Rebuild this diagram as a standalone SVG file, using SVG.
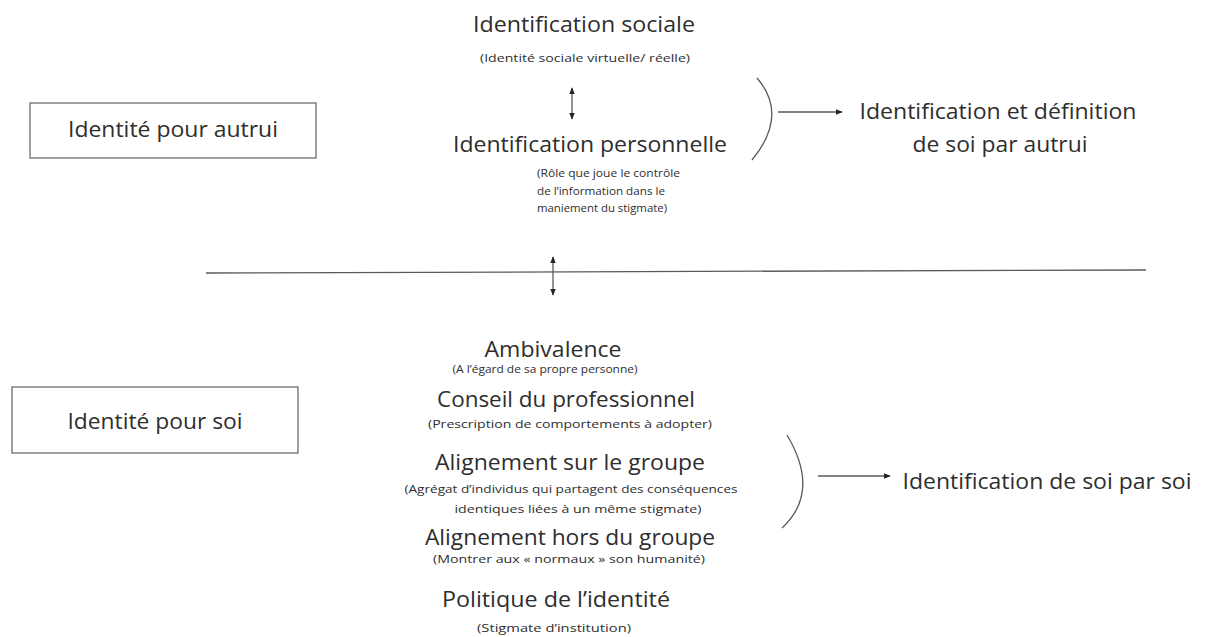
<svg xmlns="http://www.w3.org/2000/svg" width="1208" height="637" viewBox="0 0 1208 637">
<style>
text{font-family:"Open Sans","Noto Sans","Liberation Sans",sans-serif;fill:#2e2e2e}
.h{font-size:21.5px}
.s{font-size:10.5px}
.box{fill:#fff;stroke:#6e6e6e;stroke-width:1.3}
.ln{fill:none;stroke:#5a5a5a;stroke-width:1.3}
</style>
<defs>
<marker id="ah" viewBox="0 0 10 10" refX="9" refY="5" markerWidth="7" markerHeight="7" orient="auto-start-reverse" markerUnits="userSpaceOnUse">
<path d="M0,1 L10,5 L0,9 Z" fill="#222"/>
</marker>
</defs>
<rect width="1208" height="637" fill="#fff"/>
<g id="box-autrui">
<rect class="box" x="30" y="103" width="286" height="55"/>
<text class="h" x="173" y="137" text-anchor="middle" textLength="210" lengthAdjust="spacingAndGlyphs">Identité pour autrui</text>
</g>
<g id="box-soi">
<rect class="box" x="12" y="387" width="286" height="66"/>
<text class="h" x="155" y="429" text-anchor="middle" textLength="175" lengthAdjust="spacingAndGlyphs">Identité pour soi</text>
</g>
<g id="id-sociale">
<text class="h" x="584" y="32" text-anchor="middle" textLength="222" lengthAdjust="spacingAndGlyphs">Identification sociale</text>
<text class="s" x="585" y="62" text-anchor="middle" textLength="210" lengthAdjust="spacingAndGlyphs">(Identité sociale virtuelle/ réelle)</text>
</g>
<g id="id-personnelle">
<text class="h" x="590" y="152" text-anchor="middle" textLength="274" lengthAdjust="spacingAndGlyphs">Identification personnelle</text>
<text class="s" x="537" y="177" textLength="143" lengthAdjust="spacingAndGlyphs">(Rôle que joue le contrôle</text>
<text class="s" x="537" y="195" textLength="128" lengthAdjust="spacingAndGlyphs">de l’information dans le</text>
<text class="s" x="537" y="212" textLength="130" lengthAdjust="spacingAndGlyphs">maniement du stigmate)</text>
</g>
<g id="def-autrui">
<text class="h" x="998" y="119" text-anchor="middle" textLength="277" lengthAdjust="spacingAndGlyphs">Identification et définition</text>
<text class="h" x="1000" y="152" text-anchor="middle" textLength="175" lengthAdjust="spacingAndGlyphs">de soi par autrui</text>
</g>
<g id="ambivalence">
<text class="h" x="553" y="357" text-anchor="middle" textLength="137" lengthAdjust="spacingAndGlyphs">Ambivalence</text>
<text class="s" x="545" y="373" text-anchor="middle" textLength="185" lengthAdjust="spacingAndGlyphs">(A l’égard de sa propre personne)</text>
</g>
<g id="conseil">
<text class="h" x="566" y="407" text-anchor="middle" textLength="258" lengthAdjust="spacingAndGlyphs">Conseil du professionnel</text>
<text class="s" x="570" y="428" text-anchor="middle" textLength="284" lengthAdjust="spacingAndGlyphs">(Prescription de comportements à adopter)</text>
</g>
<g id="align-sur">
<text class="h" x="570" y="470" text-anchor="middle" textLength="270" lengthAdjust="spacingAndGlyphs">Alignement sur le groupe</text>
<text class="s" x="571" y="493" text-anchor="middle" textLength="333" lengthAdjust="spacingAndGlyphs">(Agrégat d’individus qui partagent des conséquences</text>
<text class="s" x="578" y="513" text-anchor="middle" textLength="247" lengthAdjust="spacingAndGlyphs">identiques liées à un même stigmate)</text>
</g>
<g id="align-hors">
<text class="h" x="570" y="545" text-anchor="middle" textLength="290" lengthAdjust="spacingAndGlyphs">Alignement hors du groupe</text>
<text class="s" x="569" y="563" text-anchor="middle" textLength="272" lengthAdjust="spacingAndGlyphs">(Montrer aux « normaux » son humanité)</text>
</g>
<g id="politique">
<text class="h" x="556" y="607" text-anchor="middle" textLength="228" lengthAdjust="spacingAndGlyphs">Politique de l’identité</text>
<text class="s" x="554" y="632" text-anchor="middle" textLength="154" lengthAdjust="spacingAndGlyphs">(Stigmate d’institution)</text>
</g>
<g id="def-soi">
<text class="h" x="1047" y="489" text-anchor="middle" textLength="289" lengthAdjust="spacingAndGlyphs">Identification de soi par soi</text>
</g>
<g id="connectors">
<line class="ln" x1="206" y1="273" x2="1146" y2="270"/>
<line class="ln" x1="572" y1="88" x2="572" y2="119" stroke="#222" marker-start="url(#ah)" marker-end="url(#ah)"/>
<line class="ln" x1="553" y1="257" x2="553" y2="295" stroke="#222" marker-start="url(#ah)" marker-end="url(#ah)"/>
<path class="ln" d="M757,78 Q789,115 752,160"/>
<line class="ln" x1="778" y1="112" x2="842" y2="112" marker-end="url(#ah)"/>
<path class="ln" d="M787,435 Q821,492 782,528"/>
<line class="ln" x1="818" y1="476" x2="890" y2="476" marker-end="url(#ah)"/>
</g>
</svg>
